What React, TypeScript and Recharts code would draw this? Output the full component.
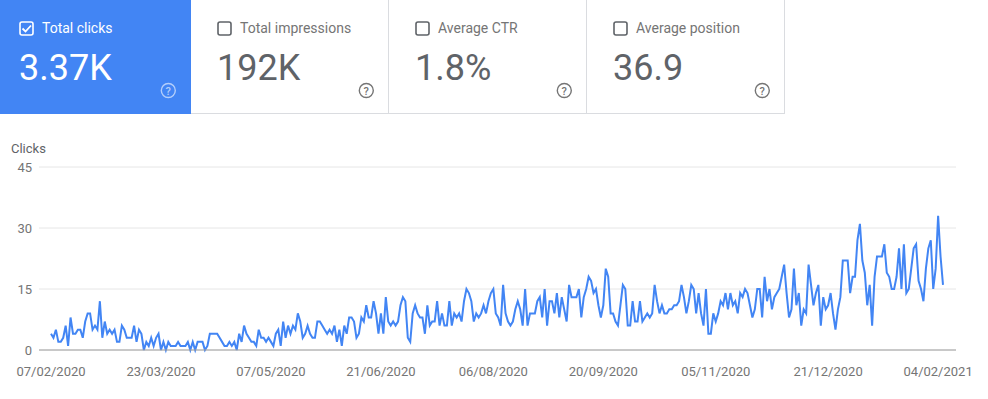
import React from 'react';
import { LineChart, Line, XAxis, YAxis, CartesianGrid } from 'recharts';

// Daily clicks from 07/02/2020 (index 0) to 06/02/2021 (index 365)
const clicks: number[] = [
  4, 3, 5, 2, 2, 3, 6, 1, 8, 4,
  4, 5, 5, 3, 7, 9, 9, 5, 6, 5,
  12, 3, 7, 4, 5, 4, 5, 2, 2, 6,
  5, 3, 3, 3, 6, 2, 5, 4, 0, 2,
  1, 3, 1, 3, 4, 0, 2, 0, 2, 1,
  1, 1, 2, 1, 1, 1, 2, 0, 2, 0,
  2, 2, 2, 0, 1, 4, 4, 4, 4, 3,
  2, 1, 1, 2, 1, 2, 0, 4, 2, 6,
  4, 3, 2, 2, 1, 5, 3, 3, 2, 3,
  2, 1, 4, 5, 1, 7, 3, 6, 4, 6,
  5, 9, 7, 3, 4, 6, 4, 3, 3, 7,
  7, 6, 5, 4, 5, 4, 6, 2, 5, 1,
  6, 4, 8, 8, 7, 3, 4, 8, 7, 11,
  8, 8, 12, 9, 4, 9, 4, 13, 7, 6,
  7, 6, 7, 11, 13, 12, 3, 2, 9, 11,
  9, 8, 8, 4, 11, 6, 7, 7, 12, 6,
  9, 6, 6, 12, 6, 9, 8, 9, 7, 12,
  15, 14, 12, 7, 9, 8, 9, 11, 9, 12,
  14, 15, 9, 8, 6, 16, 9, 7, 6, 7,
  10, 12, 10, 6, 15, 6, 9, 9, 9, 12,
  13, 8, 15, 6, 12, 12, 9, 14, 8, 13,
  10, 7, 16, 13, 13, 13, 15, 8, 13, 15,
  18, 17, 14, 15, 11, 8, 11, 20, 18, 9,
  9, 7, 6, 11, 16, 15, 6, 6, 12, 7,
  7, 12, 7, 8, 9, 8, 9, 16, 12, 9,
  11, 9, 9, 10, 10, 11, 11, 12, 16, 13,
  9, 12, 16, 15, 9, 14, 9, 6, 15, 4,
  4, 9, 7, 9, 12, 11, 14, 10, 14, 11,
  12, 9, 14, 13, 15, 14, 11, 8, 10, 15,
  15, 8, 18, 12, 15, 10, 13, 14, 15, 18,
  21, 14, 8, 10, 20, 11, 14, 6, 10, 9,
  21, 16, 11, 14, 16, 6, 13, 10, 11, 14,
  9, 5, 10, 13, 22, 22, 22, 14, 18, 18,
  27, 31, 22, 19, 11, 16, 6, 18, 23, 23,
  23, 26, 19, 18, 15, 15, 18, 25, 15, 26,
  14, 15, 20, 25, 26, 17, 15, 12, 20, 25,
  27, 15, 20, 33, 23, 16,
];

const tickDays: number[] = [0, 45, 90, 135, 181, 226, 272, 318, 363];
const tickLabels: string[] = [
  '07/02/2020', '23/03/2020', '07/05/2020', '21/06/2020', '06/08/2020',
  '20/09/2020', '05/11/2020', '21/12/2020', '04/02/2021',
];
const yTicks: number[] = [0, 15, 30, 45];

const metricNames: string[] = ['Total clicks', 'Total impressions', 'Average CTR', 'Average position'];
const metricValues: string[] = ['3.37K', '192K', '1.8%', '36.9'];
const metricActive: boolean[] = [true, false, false, false];

const data = clicks.map((v, i) => ({ day: i, clicks: v }));

const FONT = 'Roboto, Arial, sans-serif';
const BLUE = '#4285f4';

function Header() {
  return (
    <svg
      width={988}
      height={399}
      style={{ position: 'absolute', left: 0, top: 0, pointerEvents: 'none' }}
    >
      {metricNames.map((name, i) => {
        const left = -7 + 198 * i;
        const active = metricActive[i];
        const fg = active ? '#ffffff' : '#757575';
        const valColor = active ? '#ffffff' : '#5f6368';
        const cbx = left + 26;
        const cby = 21;
        return (
          <g key={name}>
            {active ? (
              <rect x={left} y={0} width={198} height={114} fill={BLUE} />
            ) : (
              <g>
                <rect x={left} y={0} width={198} height={113} fill="#ffffff" />
                <line x1={left + 197.5} y1={0} x2={left + 197.5} y2={114} stroke="#dadce0" strokeWidth={1} />
                <line x1={left} y1={113.5} x2={left + 198} y2={113.5} stroke="#dadce0" strokeWidth={1} />
              </g>
            )}
            <rect
              x={cbx + 1}
              y={cby + 1}
              width={13}
              height={13}
              rx={2}
              fill="none"
              stroke={active ? '#ffffff' : '#5f6368'}
              strokeWidth={1.6}
            />
            {active && (
              <path
                d={`M ${cbx + 3.5} ${cby + 7.5} L ${cbx + 6.5} ${cby + 10.5} L ${cbx + 12} ${cby + 4.5}`}
                fill="none"
                stroke="#ffffff"
                strokeWidth={1.8}
              />
            )}
            <text x={left + 49} y={33} fontFamily={FONT} fontSize={14} fill={active ? '#ffffff' : '#757575'}>
              {name}
            </text>
            <text x={left + 26} y={80} fontFamily={FONT} fontSize={36} fill={valColor}>
              {metricValues[i]}
            </text>
            <circle
              cx={left + 175.3}
              cy={90.5}
              r={7}
              fill="none"
              stroke={active ? 'rgba(255,255,255,0.6)' : fg}
              strokeWidth={1.4}
            />
            <text
              x={left + 175.3}
              y={94.5}
              textAnchor="middle"
              fontFamily={FONT}
              fontSize={11}
              fontWeight={500}
              fill={active ? 'rgba(255,255,255,0.6)' : fg}
            >
              ?
            </text>
          </g>
        );
      })}
      <text x={11} y={153} fontFamily={FONT} fontSize={13} fill="#5f6368">
        Clicks
      </text>
    </svg>
  );
}

export default function App() {
  return (
    <div style={{ position: 'absolute', left: 0, top: 0, width: 988, height: 399, background: '#ffffff', fontFamily: FONT }}>
      <div style={{ position: 'absolute', left: 0, top: 0 }}>
        <LineChart
          width={988}
          height={399}
          data={data}
          margin={{ top: 167, right: 32, bottom: 19, left: 0 }}
          style={{ fontFamily: FONT }}
        >
          <CartesianGrid vertical={false} stroke="#e6e6e6" />
          <XAxis
            dataKey="day"
            type="number"
            domain={[0, 365]}
            ticks={tickDays}
            interval={0}
            tickFormatter={(v: number) => tickLabels[tickDays.indexOf(v)] ?? ''}
            padding={{ left: 12, right: 13 }}
            axisLine={{ stroke: '#9e9e9e' }}
            tickLine={false}
            tickSize={0}
            tickMargin={17}
            height={30}
            tick={{ fill: '#757575', fontSize: 13, fontFamily: FONT }}
          />
          <YAxis
            domain={[0, 45]}
            ticks={yTicks}
            interval={0}
            width={39}
            axisLine={false}
            tickLine={false}
            tickSize={0}
            tickMargin={7}
            tick={{ fill: '#757575', fontSize: 13, fontFamily: FONT }}
          />
          <Line
            type="linear"
            dataKey="clicks"
            stroke={BLUE}
            strokeWidth={2}
            dot={false}
            isAnimationActive={false}
          />
        </LineChart>
      </div>
      <Header />
    </div>
  );
}
